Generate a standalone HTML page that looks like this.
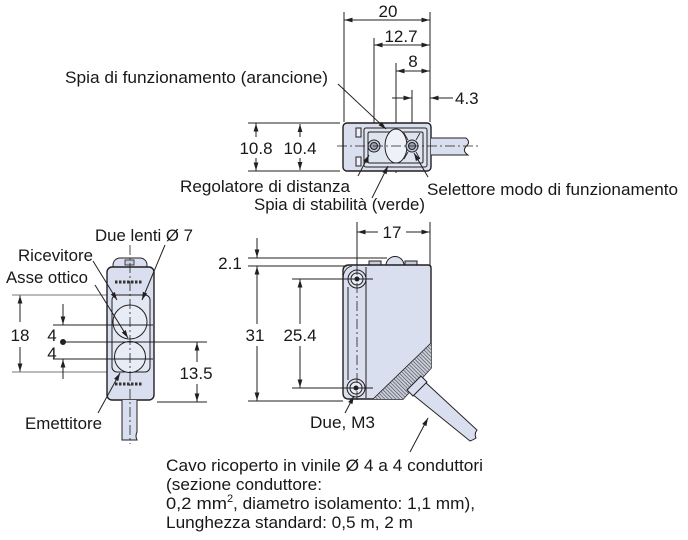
<!DOCTYPE html>
<html><head><meta charset="utf-8"><style>
html,body{margin:0;padding:0;background:#fff;}
svg{display:block;}
text{font-family:"Liberation Sans",Arial,sans-serif;font-size:17px;fill:#1a1718;}
.n{text-anchor:middle;}
</style></head><body>
<svg width="688" height="540" viewBox="0 0 688 540" xmlns="http://www.w3.org/2000/svg">
<defs>
<marker id="a" markerUnits="userSpaceOnUse" markerWidth="9" markerHeight="6" refX="8" refY="3" orient="auto">
<path d="M0,0.6 L8,3 L0,5.4 z" fill="#231f20"/>
</marker>
<pattern id="h" patternUnits="userSpaceOnUse" width="2.6" height="2.6" patternTransform="rotate(-45)">
<rect width="2.6" height="2.6" fill="#c9cfdd"/>
<line x1="0" y1="0" x2="0" y2="2.6" stroke="#444" stroke-width="1.2"/>
</pattern>
</defs>
<g stroke="#231f20" stroke-width="1" fill="none">

<!-- ============ TOP VIEW ============ -->
<line x1="344" y1="12" x2="344" y2="122"/>
<line x1="430" y1="12" x2="430" y2="122"/>
<line x1="374" y1="38" x2="374" y2="146"/>
<line x1="396" y1="63" x2="396" y2="173"/>
<line x1="412" y1="90" x2="412" y2="146"/>
<line x1="388" y1="20" x2="344.5" y2="20" marker-end="url(#a)"/>
<line x1="388" y1="20" x2="429.5" y2="20" marker-end="url(#a)"/>
<line x1="400" y1="45" x2="374.5" y2="45" marker-end="url(#a)"/>
<line x1="400" y1="45" x2="429.5" y2="45" marker-end="url(#a)"/>
<line x1="413" y1="71" x2="396.5" y2="71" marker-end="url(#a)"/>
<line x1="413" y1="71" x2="429.5" y2="71" marker-end="url(#a)"/>
<line x1="392" y1="98" x2="411.5" y2="98" marker-end="url(#a)"/>
<line x1="453" y1="98" x2="430.5" y2="98" marker-end="url(#a)"/>

<rect x="343" y="123" width="88" height="48" rx="4" fill="#d9dfee" stroke-width="1.4"/>
<rect x="364" y="128" width="63" height="39" rx="2" fill="#dfe4f1"/>
<rect x="368" y="132" width="55" height="31" rx="1.5"/>
<rect x="356" y="128" width="5" height="9" fill="#eef1f8"/>
<rect x="356" y="157" width="5" height="9" fill="#eef1f8"/>
<ellipse cx="396" cy="146" rx="11" ry="17" fill="#eef1f8"/>
<path d="M404,133 L408,140 M420,133 L416,140 M404,159 L408,152 M420,159 L416,152" stroke-width="0.8"/>
<circle cx="374" cy="146" r="6" fill="#c5ccdc"/>
<circle cx="374" cy="146" r="3.5" fill="#9aa2b5"/>
<circle cx="412" cy="146" r="6" fill="#c5ccdc"/>
<circle cx="412" cy="146" r="3.5" fill="#9aa2b5"/>
<path d="M431,138 L466,138 Q471,142 466,146.5 Q462,151 468,155 L431,155" fill="#d9dfee"/>
<line x1="337" y1="146" x2="478" y2="146" stroke-dasharray="10 3 2 3" stroke-width="0.8"/>

<line x1="248" y1="123" x2="340" y2="123"/>
<line x1="248" y1="171" x2="340" y2="171"/>
<line x1="256" y1="137" x2="256" y2="123.5" marker-end="url(#a)"/>
<line x1="256" y1="158" x2="256" y2="170.5" marker-end="url(#a)"/>
<line x1="300" y1="137" x2="300" y2="124" marker-end="url(#a)"/>
<line x1="300" y1="158" x2="300" y2="170" marker-end="url(#a)"/>

<line x1="338" y1="84" x2="386" y2="129" marker-end="url(#a)"/>
<line x1="358" y1="176" x2="369" y2="155" marker-end="url(#a)"/>
<line x1="372" y1="198" x2="388" y2="166" marker-end="url(#a)"/>
<line x1="428" y1="177" x2="414" y2="153" marker-end="url(#a)"/>

<!-- ============ LEFT VIEW ============ -->
<line x1="12" y1="295" x2="110" y2="295" stroke="#777"/>
<line x1="12" y1="372" x2="110" y2="372" stroke="#777"/>
<rect x="113" y="258" width="34" height="14" rx="7" fill="#d9dfee"/>
<rect x="125" y="260" width="9" height="5" fill="#c5ccdc" stroke-width="0.8"/>
<rect x="107" y="267" width="47" height="133" rx="5" fill="#d9dfee" stroke-width="1.4"/>
<rect x="112" y="295" width="38" height="77" rx="5" fill="#e2e7f3"/>
<circle cx="130" cy="322" r="17" fill="#e8ecf6"/>
<circle cx="130" cy="357" r="15.5" fill="#e8ecf6"/>
<g stroke="#333" stroke-width="3" stroke-dasharray="2.5 1.5">
<line x1="115" y1="282" x2="143" y2="282"/>
<line x1="115" y1="384" x2="143" y2="384"/>
</g>
<path d="M122,400 L122,440 L137,440 Q135,436 137,432 L137,400" fill="#d9dfee"/>
<line x1="130" y1="245" x2="130" y2="444" stroke-dasharray="10 3 2 3" stroke-width="0.8"/>
<line x1="53" y1="325" x2="153" y2="325"/>
<line x1="63" y1="342" x2="207" y2="342"/>
<line x1="53" y1="359" x2="153" y2="359"/>
<line x1="157" y1="402" x2="207" y2="402"/>
<line x1="20" y1="322" x2="20" y2="295.5" marker-end="url(#a)"/>
<line x1="20" y1="347" x2="20" y2="371.5" marker-end="url(#a)"/>
<line x1="63" y1="304" x2="63" y2="324.5" marker-end="url(#a)"/>
<line x1="63" y1="379" x2="63" y2="359.5" marker-end="url(#a)"/>
<circle cx="63" cy="342" r="2.5" fill="#231f20"/>
<line x1="197" y1="362" x2="197" y2="342.5" marker-end="url(#a)"/>
<line x1="197" y1="384" x2="197" y2="401.5" marker-end="url(#a)"/>
<line x1="165" y1="245" x2="142" y2="300" marker-end="url(#a)"/>
<line x1="93" y1="261" x2="117" y2="300" marker-end="url(#a)"/>
<line x1="95" y1="285" x2="128" y2="338" marker-end="url(#a)"/>
<line x1="98" y1="413" x2="120" y2="373" marker-end="url(#a)"/>

<!-- ============ RIGHT VIEW ============ -->
<line x1="357" y1="222" x2="357" y2="265"/>
<line x1="430" y1="222" x2="430" y2="265"/>
<line x1="378" y1="232" x2="357.5" y2="232" marker-end="url(#a)"/>
<line x1="406" y1="232" x2="429.5" y2="232" marker-end="url(#a)"/>
<rect x="369" y="261" width="12" height="4.5" fill="#c5ccdc"/>
<path d="M386,265.5 A9,9 0 0 1 404,265.5 Z" fill="#d9dfee"/>
<rect x="405" y="261" width="12" height="4.5" fill="#c5ccdc"/>
<path d="M343,271 Q343,265 349,265 L428,265 Q431,265 431,268 L431,368 L403,399 L349,399 Q343,399 343,393 Z" fill="#d9dfee" stroke-width="1.4"/>
<path d="M431,343 L431,368 L403,399 L373,399 Z" fill="url(#h)" stroke="none"/>
<line x1="431" y1="343" x2="373" y2="399" stroke-width="0.8"/>
<line x1="366" y1="267" x2="366" y2="398"/>
<line x1="348" y1="287" x2="348" y2="380"/>
<path d="M343,280 Q343,268 352,266" stroke-width="0.8"/>
<path d="M424,381 L477,430 Q474,434 476,438 Q473,440 470,441 L412,394 Z" fill="#d9dfee"/>
<path d="M421,376 L427,382 L413,396 L407,390 Z" fill="#d9dfee"/>
<circle cx="357" cy="279" r="9" fill="#d9dfee"/>
<circle cx="357" cy="279" r="6" fill="#e8ecf6"/>
<circle cx="357" cy="279" r="2" fill="#231f20"/>
<circle cx="356" cy="388" r="9" fill="#d9dfee"/>
<circle cx="356" cy="388" r="6" fill="#e8ecf6"/>
<circle cx="356" cy="388" r="2" fill="#231f20"/>
<line x1="357" y1="265" x2="357" y2="400" stroke-dasharray="10 3 2 3" stroke-width="0.8"/>
<line x1="248" y1="258" x2="387" y2="258"/>
<line x1="248" y1="266" x2="347" y2="266"/>
<line x1="257" y1="238" x2="257" y2="257.5" marker-end="url(#a)"/>
<line x1="257" y1="324" x2="257" y2="266.5" marker-end="url(#a)"/>
<line x1="257" y1="346" x2="257" y2="400.5" marker-end="url(#a)"/>
<line x1="292" y1="279" x2="373" y2="279"/>
<line x1="292" y1="388" x2="373" y2="388"/>
<line x1="300" y1="324" x2="300" y2="279.5" marker-end="url(#a)"/>
<line x1="300" y1="346" x2="300" y2="387.5" marker-end="url(#a)"/>
<line x1="248" y1="401" x2="343" y2="401"/>
<line x1="345" y1="413" x2="354" y2="396" marker-end="url(#a)"/>
<line x1="410" y1="452" x2="428" y2="418" marker-end="url(#a)"/>
</g>

<!-- ============ TEXT ============ -->
<text class="n" x="388" y="17">20</text>
<text class="n" x="401" y="42">12.7</text>
<text class="n" x="413" y="67">8</text>
<text x="455" y="104">4.3</text>
<text x="65" y="83" textLength="263" lengthAdjust="spacingAndGlyphs">Spia di funzionamento (arancione)</text>
<text class="n" x="256" y="154">10.8</text>
<text class="n" x="300" y="154">10.4</text>
<text x="180" y="192" textLength="170" lengthAdjust="spacingAndGlyphs">Regolatore di distanza</text>
<text x="254" y="210" textLength="171" lengthAdjust="spacingAndGlyphs">Spia di stabilità (verde)</text>
<text x="427" y="195" textLength="251" lengthAdjust="spacingAndGlyphs">Selettore modo di funzionamento</text>

<text x="95" y="241" textLength="98" lengthAdjust="spacingAndGlyphs">Due lenti Ø 7</text>
<text x="18" y="261" textLength="75" lengthAdjust="spacingAndGlyphs">Ricevitore</text>
<text x="6" y="283" textLength="82" lengthAdjust="spacingAndGlyphs">Asse ottico</text>
<text class="n" x="20" y="341">18</text>
<text class="n" x="52" y="341">4</text>
<text class="n" x="52" y="359">4</text>
<text class="n" x="196" y="379">13.5</text>
<text x="25" y="429" textLength="77" lengthAdjust="spacingAndGlyphs">Emettitore</text>

<text class="n" x="392" y="238">17</text>
<text class="n" x="230" y="269">2.1</text>
<text class="n" x="255" y="341">31</text>
<text class="n" x="300" y="341">25.4</text>
<text x="310" y="428" textLength="65" lengthAdjust="spacingAndGlyphs">Due, M3</text>

<text x="166" y="471" textLength="317" lengthAdjust="spacingAndGlyphs">Cavo ricoperto in vinile Ø 4 a 4 conduttori</text>
<text x="166" y="490" textLength="156" lengthAdjust="spacingAndGlyphs">(sezione conduttore:</text>
<text x="166" y="509" textLength="61" lengthAdjust="spacingAndGlyphs">0,2 mm</text>
<text x="227" y="502" style="font-size:11px">2</text>
<text x="233" y="509" textLength="242" lengthAdjust="spacingAndGlyphs">, diametro isolamento: 1,1 mm),</text>
<text x="166" y="528" textLength="247" lengthAdjust="spacingAndGlyphs">Lunghezza standard: 0,5 m, 2 m</text>
</svg>
</body></html>
